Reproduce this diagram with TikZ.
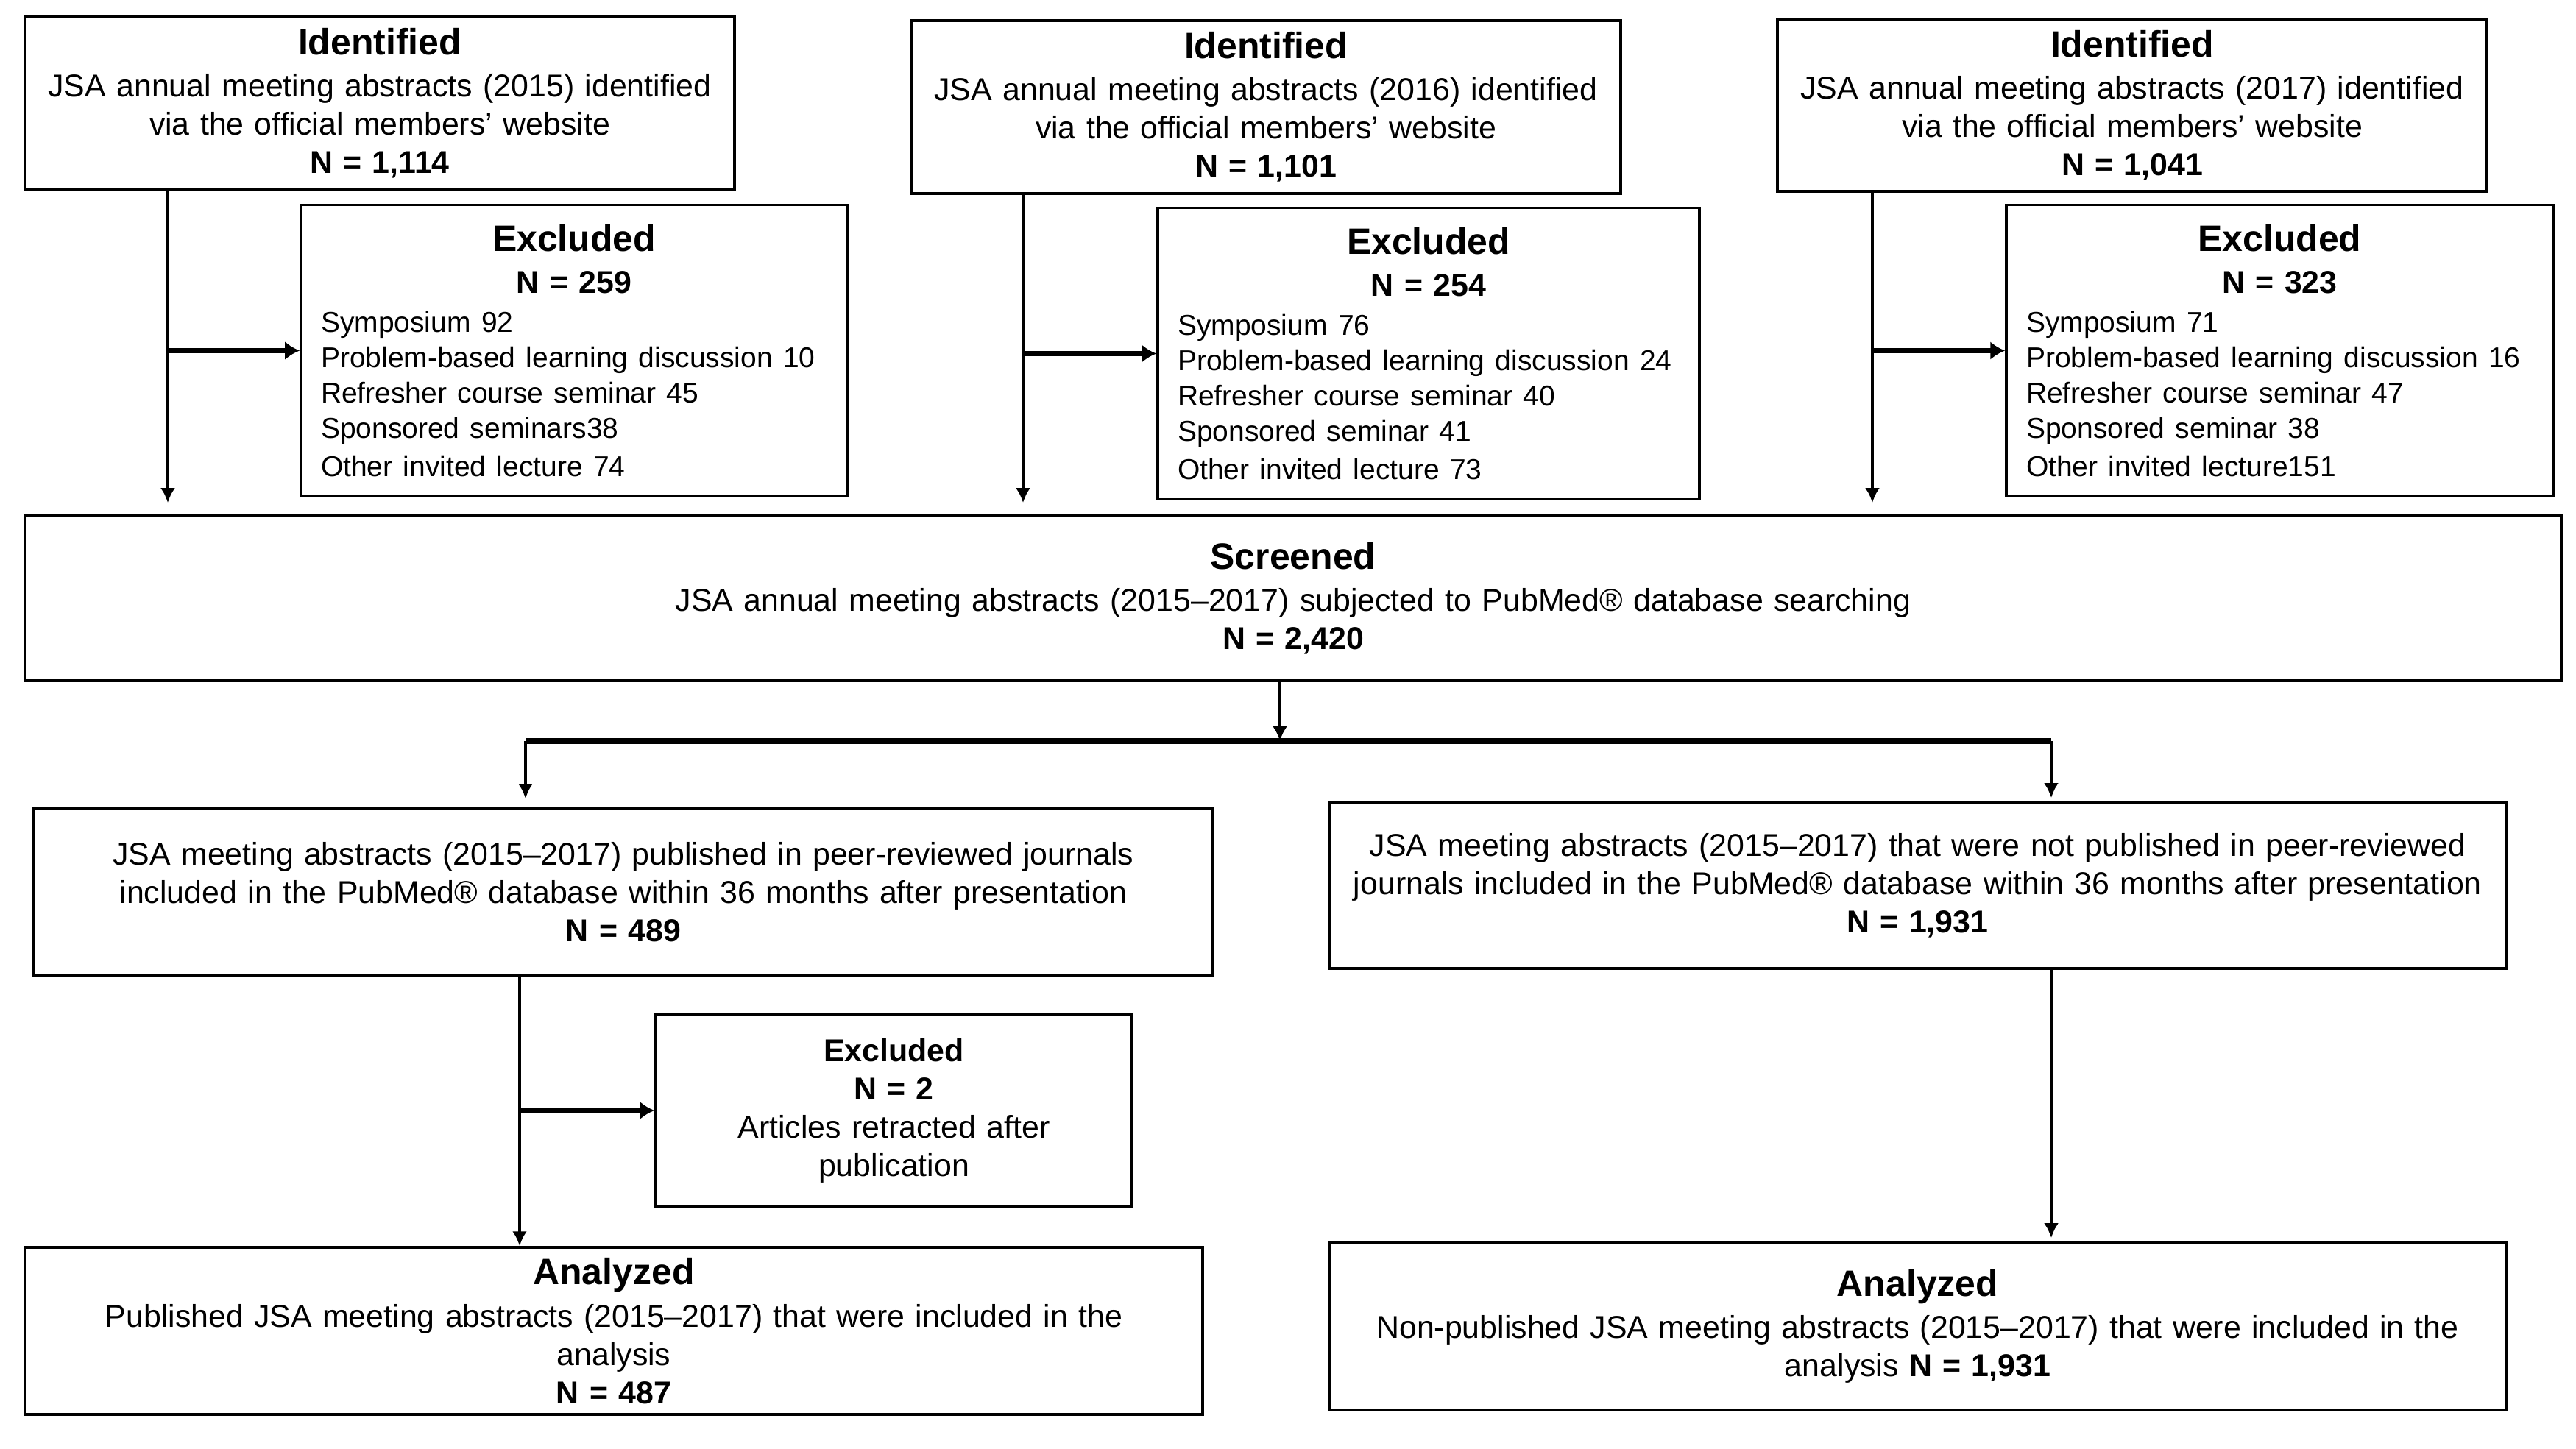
\documentclass[tikz,border=0pt]{standalone}
\usepackage{fontspec}
\setmainfont{Liberation Sans}
\usetikzlibrary{arrows.meta}
\newcommand{\boxtitle}[1]{{\fontsize{14.2}{17}\selectfont\bfseries #1\par}\vspace{1.5pt}}
\newcommand{\bodysize}{\fontsize{12.2}{14.8}\selectfont}
\newcommand{\listsize}{\fontsize{11.1}{13.6}\selectfont}
\begin{document}
\begin{tikzpicture}[
        box/.style={draw, line width=1pt, inner sep=0.1cm, align=center, font=\bodysize},
        exbox/.style={draw, line width=1pt, inner sep=0.27cm, font=\bodysize},
        arr/.style={line width=1.2pt, -{Latex[length=0.2cm,width=0.2cm]}},
        sidearr/.style={line width=2.2pt, -{Latex[length=0.2cm,width=0.25cm]}},
        bar/.style={line width=2.2pt}
    ]
        \useasboundingbox (0,0) rectangle (35,-19.69);

        % Identified abstracts, one box per year
        \node[box, text width=9.44cm, minimum height=2.36cm] (id1) at (5.16,-1.40)
            {\boxtitle{Identified}JSA annual meeting abstracts (2015) identified\\ via the official members’ website\\ \textbf{N = 1,114}};
        \node[box, text width=9.44cm, minimum height=2.35cm] (id2) at (17.20,-1.455)
            {\boxtitle{Identified}JSA annual meeting abstracts (2016) identified\\ via the official members’ website\\ \textbf{N = 1,101}};
        \node[box, text width=9.44cm, minimum height=2.34cm] (id3) at (28.97,-1.43)
            {\boxtitle{Identified}JSA annual meeting abstracts (2017) identified\\ via the official members’ website\\ \textbf{N = 1,041}};

        % Excluded per year
        \node[exbox, text width=6.88cm, minimum height=3.83cm] (ex1) at (7.80,-4.765)
            {\centering\boxtitle{Excluded}\textbf{N = 259}\par\vspace{1.5pt}\raggedright\listsize
            Symposium 92\\ Problem-based learning discussion 10\\ Refresher course seminar 45\\ Sponsored seminars38\\ Other invited lecture 74};
        \node[exbox, text width=6.82cm, minimum height=3.83cm] (ex2) at (19.41,-4.805)
            {\centering\boxtitle{Excluded}\textbf{N = 254}\par\vspace{1.5pt}\raggedright\listsize
            Symposium 76\\ Problem-based learning discussion 24\\ Refresher course seminar 40\\ Sponsored seminar 41\\ Other invited lecture 73};
        \node[exbox, text width=6.89cm, minimum height=3.81cm] (ex3) at (30.975,-4.765)
            {\centering\boxtitle{Excluded}\textbf{N = 323}\par\vspace{1.5pt}\raggedright\listsize
            Symposium 71\\ Problem-based learning discussion 16\\ Refresher course seminar 47\\ Sponsored seminar 38\\ Other invited lecture151};

        % Screened
        \node[box, text width=34.26cm, minimum height=2.24cm] (scr) at (17.57,-8.13)
            {\boxtitle{Screened}JSA annual meeting abstracts (2015--2017) subjected to PubMed® database searching\\ \textbf{N = 2,420}};

        % Published / not published
        \node[box, text width=15.82cm, minimum height=2.27cm] (pub) at (8.47,-12.125)
            {JSA meeting abstracts (2015--2017) published in peer-reviewed journals\\ included in the PubMed® database within 36 months after presentation\\ \textbf{N = 489}};
        \node[box, text width=15.79cm, minimum height=2.26cm] (npub) at (26.055,-12.03)
            {JSA meeting abstracts (2015--2017) that were not published in peer-reviewed\\ journals included in the PubMed® database within 36 months after presentation\\ \textbf{N = 1,931}};

        % Retracted articles
        \node[box, text width=6.27cm, minimum height=2.62cm] (ex4) at (12.145,-15.09)
            {\textbf{Excluded}\\ \textbf{N = 2}\\ Articles retracted after\\ publication};

        % Analyzed
        \node[box, text width=15.80cm, minimum height=2.27cm] (an1) at (8.34,-18.085)
            {\boxtitle{Analyzed}Published JSA meeting abstracts (2015--2017) that were included in the\\ analysis\\ \textbf{N = 487}};
        \node[box, text width=15.79cm, minimum height=2.27cm] (an2) at (26.055,-18.025)
            {\boxtitle{Analyzed}Non-published JSA meeting abstracts (2015--2017) that were included in the\\ analysis \textbf{N = 1,931}};

        % Flow lines
        \coordinate (d1) at (2.28,-2.63);
        \coordinate (d2) at (13.90,-2.63);
        \coordinate (d3) at (25.44,-2.63);
        \coordinate (d4) at (7.06,-13.26);
        \coordinate (barM) at (17.39,-10.07);
        \coordinate (barL) at (7.14,-10.07);
        \coordinate (barR) at (27.87,-10.07);

        \foreach \d/\i/\e in {d1/id1/ex1, d2/id2/ex2, d3/id3/ex3} {
            \draw[arr, shorten >=0.16cm] (\i.south -| \d) -- (\d |- scr.north);
            \draw[sidearr] (\d |- \e.west) -- (\e.west);
        }

        \draw[arr] (scr.south -| barM) -- (barM);
        \draw[bar] (barL) -- (barR);
        \draw[arr, shorten >=0.12cm] (barL) -- (barL |- pub.north);
        \draw[arr, shorten >=0.04cm] (barR) -- (barR |- npub.north);

        \draw[arr] (pub.south -| d4) -- (d4 |- an1.north);
        \draw[sidearr] (d4 |- ex4.west) -- (ex4.west);
        \draw[arr, shorten >=0.05cm] (npub.south -| barR) -- (barR |- an2.north);
    \end{tikzpicture}
\end{document}
